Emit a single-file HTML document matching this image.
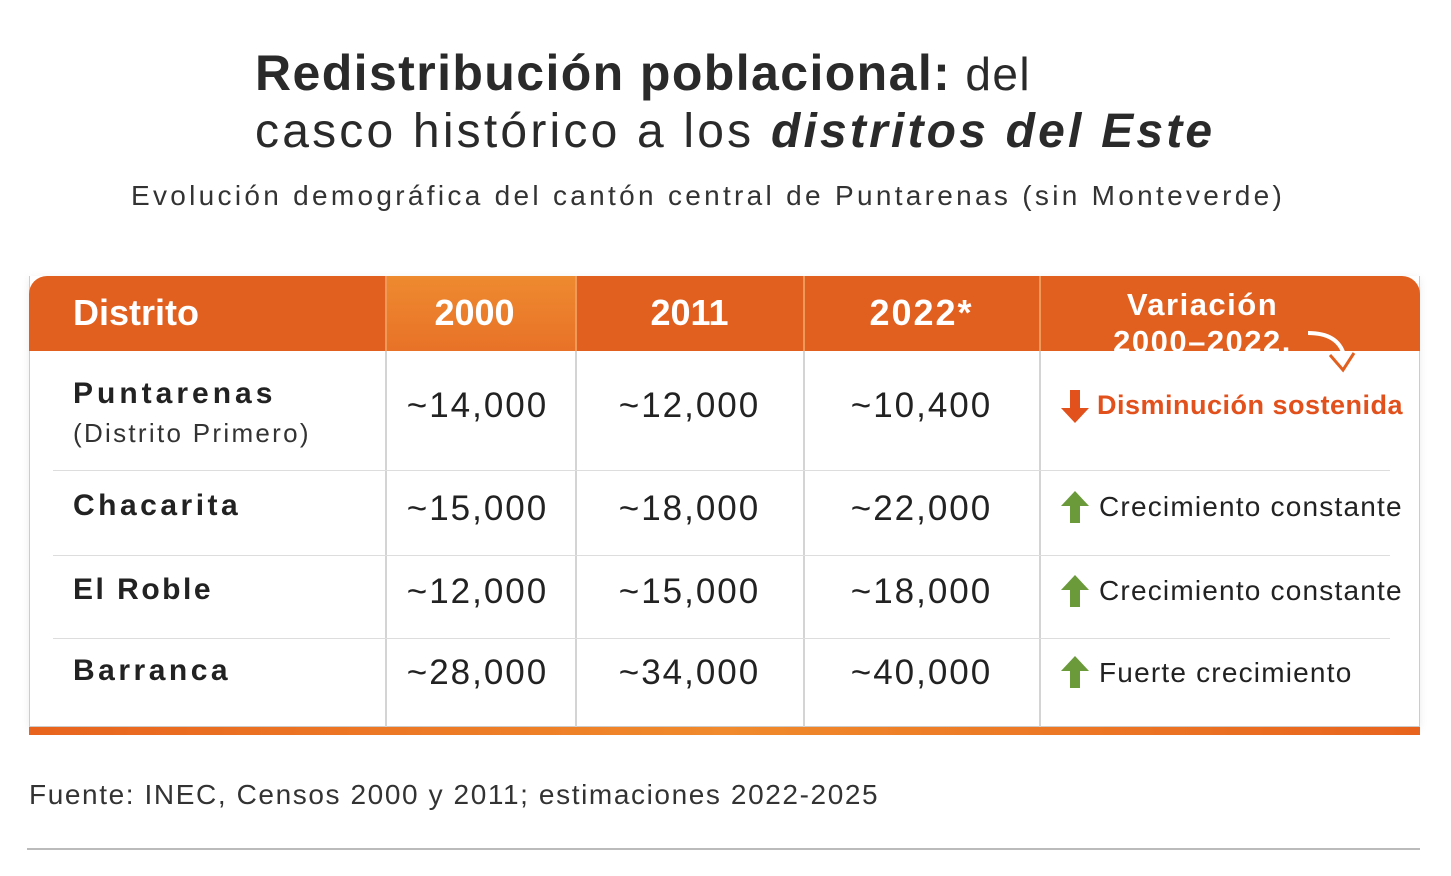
<!DOCTYPE html>
<html><head><meta charset="utf-8"><style>
body{margin:0;width:1451px;height:876px;background:#fff;font-family:"Liberation Sans",sans-serif;position:relative;overflow:hidden;color:#222}
.a{position:absolute;white-space:nowrap}
.h{color:#fff;font-weight:bold;font-size:36px;text-align:center}
.n{font-size:35px;color:#222;text-align:center;letter-spacing:2px}
.d{font-size:30px;font-weight:bold;color:#222;letter-spacing:2.5px}
.v{font-size:28px;color:#222;letter-spacing:1.2px}
.vl{position:absolute;top:351px;height:376px;width:2px;background:#d4d4d4}
.hl{position:absolute;left:53px;width:1337px;height:1px;background:#ddd}
</style></head><body>
<div class="a" style="left:255px;top:44px;font-size:50px;font-weight:bold;color:#2a2a2a;letter-spacing:1.4px">Redistribución poblacional:<span style="font-weight:normal;font-size:46px"> del</span></div>
<div class="a" style="left:255px;top:104px;font-size:48px;color:#2a2a2a;letter-spacing:3.2px">casco histórico a los <b><i>distritos del Este</i></b></div>
<div class="a" style="left:131px;top:180px;font-size:28px;color:#333;letter-spacing:3.3px">Evolución demográfica del cantón central de Puntarenas (sin Monteverde)</div>

<div class="a" style="left:29px;top:276px;width:1391px;height:451px;border:1px solid #ccc;border-top:none;box-sizing:border-box;box-shadow:0 2px 8px rgba(0,0,0,0.08)"></div>
<div class="a" style="left:29px;top:276px;width:1391px;height:75px;background:#e2601f;border-radius:18px 18px 0 0"></div>
<div class="a" style="left:386px;top:276px;width:189px;height:75px;background:linear-gradient(#ee8a2f,#e87228)"></div>
<div class="a" style="left:385px;top:276px;width:2px;height:75px;background:#f09a5a"></div>
<div class="a" style="left:575px;top:276px;width:2px;height:75px;background:#f09a5a"></div>
<div class="a" style="left:803px;top:276px;width:2px;height:75px;background:#f09a5a"></div>
<div class="a" style="left:1039px;top:276px;width:2px;height:75px;background:#f09a5a"></div>
<div class="vl" style="left:385px"></div><div class="vl" style="left:575px"></div><div class="vl" style="left:803px"></div><div class="vl" style="left:1039px"></div>
<div class="hl" style="top:470px"></div><div class="hl" style="top:555px"></div><div class="hl" style="top:638px"></div>
<div class="a" style="left:29px;top:727px;width:1391px;height:8px;background:linear-gradient(90deg,#e8641e,#f08a2c,#e8641e)"></div>

<div class="a h" style="left:73px;top:292px;text-align:left">Distrito</div>
<div class="a h" style="left:380px;top:292px;width:189px">2000</div>
<div class="a h" style="left:576px;top:292px;width:227px">2011</div>
<div class="a h" style="left:804px;top:292px;width:235px;letter-spacing:2px">2022*</div>
<div class="a h" style="left:1040px;top:286px;width:325px;font-size:31px;line-height:37px;letter-spacing:1.5px">Variación<br>2000–2022.</div>
<svg class="a" style="left:1300px;top:325px" width="60" height="50"><path d="M8 8 Q38 8 44 30" fill="none" stroke="#fff" stroke-width="4"/><path d="M30 30 L43 45 L54 28" fill="none" stroke="#e2601f" stroke-width="3"/></svg>

<div class="a d" style="left:73px;top:377px;letter-spacing:4px">Puntarenas</div>
<div class="a" style="left:73px;top:418px;font-size:26px;color:#333;letter-spacing:2.3px">(Distrito Primero)</div>
<div class="a d" style="left:73px;top:489px;letter-spacing:3.5px">Chacarita</div>
<div class="a d" style="left:73px;top:573px">El Roble</div>
<div class="a d" style="left:73px;top:654px;letter-spacing:3.5px">Barranca</div>

<div class="a n" style="left:383px;top:386px;width:189px">~14,000</div>
<div class="a n" style="left:576px;top:386px;width:227px">~12,000</div>
<div class="a n" style="left:804px;top:386px;width:235px">~10,400</div>
<div class="a n" style="left:383px;top:489px;width:189px">~15,000</div>
<div class="a n" style="left:576px;top:489px;width:227px">~18,000</div>
<div class="a n" style="left:804px;top:489px;width:235px">~22,000</div>
<div class="a n" style="left:383px;top:572px;width:189px">~12,000</div>
<div class="a n" style="left:576px;top:572px;width:227px">~15,000</div>
<div class="a n" style="left:804px;top:572px;width:235px">~18,000</div>
<div class="a n" style="left:383px;top:653px;width:189px">~28,000</div>
<div class="a n" style="left:576px;top:653px;width:227px">~34,000</div>
<div class="a n" style="left:804px;top:653px;width:235px">~40,000</div>

<svg class="a" style="left:1061px;top:390px" width="30" height="34"><path d="M9 0 H19 V18 H28 L14 33 L0 18 H9Z" fill="#e2501c"/></svg>
<div class="a" style="left:1097px;top:390px;font-size:27px;font-weight:bold;color:#e2501c;letter-spacing:0.5px">Disminución sostenida</div>
<svg class="a" style="left:1061px;top:491px" width="30" height="32"><path d="M9 32 H19 V15 H28 L14 0 L0 15 H9Z" fill="#6a9a3a"/></svg>
<div class="a v" style="left:1099px;top:491px">Crecimiento constante</div>
<svg class="a" style="left:1061px;top:575px" width="30" height="32"><path d="M9 32 H19 V15 H28 L14 0 L0 15 H9Z" fill="#6a9a3a"/></svg>
<div class="a v" style="left:1099px;top:575px">Crecimiento constante</div>
<svg class="a" style="left:1061px;top:656px" width="30" height="32"><path d="M9 32 H19 V15 H28 L14 0 L0 15 H9Z" fill="#6a9a3a"/></svg>
<div class="a v" style="left:1099px;top:657px">Fuerte crecimiento</div>

<div class="a" style="left:29px;top:779px;font-size:28px;color:#333;letter-spacing:1.6px">Fuente: INEC, Censos 2000 y 2011; estimaciones 2022-2025</div>
<div class="a" style="left:27px;top:848px;width:1393px;height:2px;background:#bbb"></div>
</body></html>
